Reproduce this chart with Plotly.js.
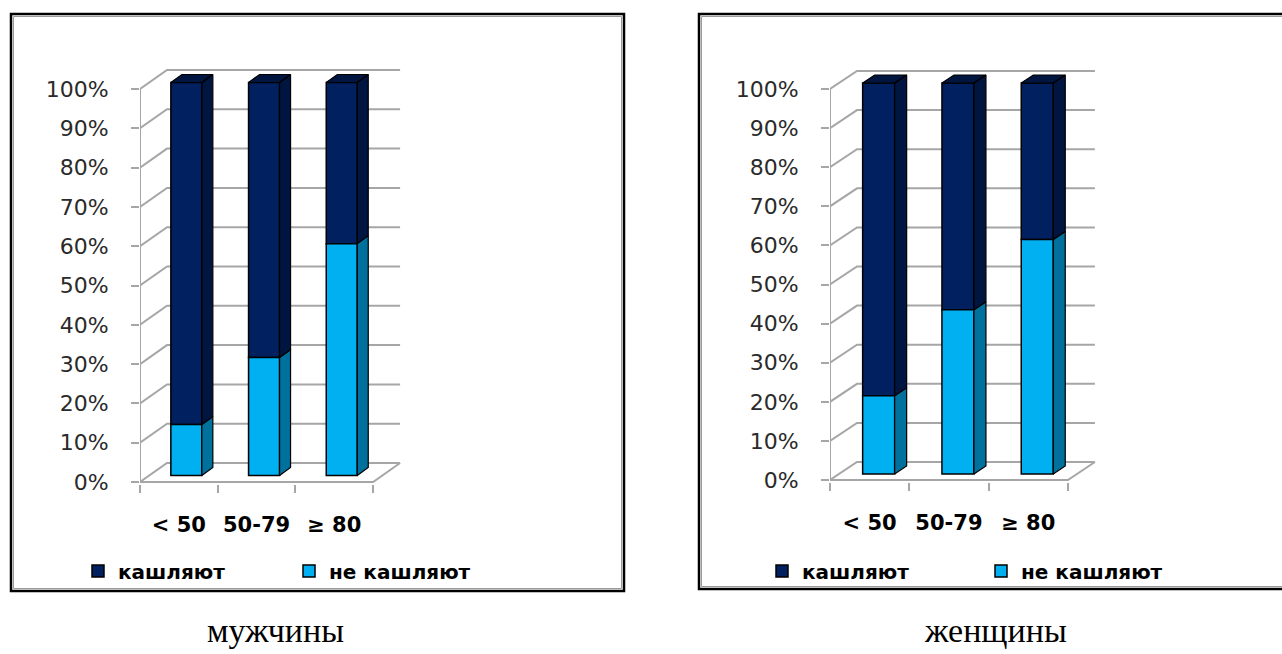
<!DOCTYPE html>
<html><head><meta charset="utf-8">
<script src="https://cdn.plot.ly/plotly-3.0.1.min.js"></script>
<style>html,body{margin:0;padding:0;background:#fff;} #chart{width:1282px;height:654px;}</style>
</head><body><div id="chart"></div>
<script>
// ---- data ----
const categories = ['< 50', '50-79', '≥ 80'];
const menNotCoughing = [13, 30, 59];
const menCoughing = [87, 70, 41];
const womenNotCoughing = [20, 42, 60];
const womenCoughing = [80, 58, 40];
const seriesNames = ['кашляют', 'не кашляют'];
const yTickValues = [0, 10, 20, 30, 40, 50, 60, 70, 80, 90, 100];
const yTickLabels = ['0%', '10%', '20%', '30%', '40%', '50%', '60%', '70%', '80%', '90%', '100%'];
const panelTitles = ['мужчины', 'женщины'];

// ---- styling / geometry ----
const W = 1282, H = 654;
const COL = {
  darkFront: '#002060', darkSide: '#00153f', darkTop: '#001a4d',
  lightFront: '#00b0f0', lightSide: '#00709c',
  grid: '#a6a6a6', tick: '#2a2a2a'
};
const geoms = [
  {axisX:140, catW:77.7, y0:482, y100:89, topPx:58, frontOffX:7.5, barW:31, frontOffY:6.5, sideDx:11, sideDy:8, backDx:27, backDy:19,
   box:[11, 14, 624, 591], legendX:78, legendEntry:166, titleX:275},
  {axisX:830, catW:79.3, y0:480, y100:89, topPx:58, frontOffX:9, barW:32, frontOffY:6, sideDx:12, sideDy:8, backDx:27, backDy:18,
   box:[699, 14, 1300, 589], legendX:762, legendEntry:174, titleX:995}
];

const traces = [];
const shapes = [];
const annotations = [];
const layout = {
  width: W, height: H, margin: {l:0, r:0, t:0, b:0},
  paper_bgcolor: '#fff', plot_bgcolor: 'rgba(0,0,0,0)',
  barmode: 'overlay', hovermode: false, showlegend: true,
  font: {family: 'DejaVu Sans', color: '#000'}
};

const panels = [
  {notV: menNotCoughing, cV: menCoughing},
  {notV: womenNotCoughing, cV: womenCoughing}
];

panels.forEach((p, k) => {
  const g = geoms[k];
  const xa = k === 0 ? 'x' : 'x2', ya = k === 0 ? 'y' : 'y2';
  const xKey = k === 0 ? 'xaxis' : 'xaxis2', yKey = k === 0 ? 'yaxis' : 'yaxis2';
  const lg = k === 0 ? 'legend' : 'legend2';
  const n = categories.length;
  const pxPct = (g.y0 - g.y100) / 100;
  const Dx = g.backDx / g.catW, Dy = g.backDy / pxPct;
  const oy = g.frontOffY / pxPct;
  const bw = g.barW / g.catW;
  const sdx = g.sideDx / g.catW, sdy = g.sideDy / pxPct;
  const offX = g.frontOffX / g.catW;
  const xMax = n + Dx + 2 / g.catW;
  const yMin = -2 / pxPct;

  layout[xKey] = {
    domain: [g.axisX / W, (g.axisX + xMax * g.catW) / W],
    range: [0, xMax], anchor: ya, showgrid: false, zeroline: false, showline: false,
    tickmode: 'array', tickvals: categories.map((c, i) => i + 0.5), ticktext: categories,
    ticks: '', ticklabelstandoff: 26,
    tickfont: {family: 'DejaVu Sans', size: 21, color: '#000', weight: 700},
    minor: {tickmode: 'array', tickvals: [0, 1, 2, 3].slice(0, n + 1), ticks: 'outside', ticklen: 8, tickwidth: 2, tickcolor: COL.grid, showgrid: false},
    fixedrange: true
  };
  layout[yKey] = {
    domain: [(H - g.y0 - 2) / H, (H - g.topPx) / H],
    range: [yMin, (g.y0 - g.topPx) / pxPct], anchor: xa,
    showgrid: false, zeroline: false, showline: false,
    tickmode: 'array', tickvals: yTickValues, ticktext: yTickLabels,
    ticks: 'outside', ticklen: 8, tickwidth: 2, tickcolor: COL.grid,
    ticklabelstandoff: 18,
    tickfont: {family: 'DejaVu Sans', size: 22, color: COL.tick},
    fixedrange: true
  };

  // walls / gridlines
  yTickValues.forEach(t => {
    shapes.push({type: 'path', xref: xa, yref: ya, layer: 'below',
      path: `M 0,${t} L ${Dx},${t + Dy} L ${n + Dx},${t + Dy}`,
      line: {color: COL.grid, width: 2}});
  });
  shapes.push({type: 'path', xref: xa, yref: ya, layer: 'below',
    path: `M 0,100 L 0,0 L ${n},0 L ${n + Dx},${Dy}`, line: {color: COL.grid, width: 2}});

  // front faces (bars)
  const xs = categories.map((c, i) => i + 0.5 + offX);
  traces.push({type: 'bar', name: seriesNames[0], legend: lg, xaxis: xa, yaxis: ya,
    x: xs, y: p.cV, base: p.notV.map(v => v + oy), width: bw,
    marker: {color: COL.darkFront, line: {color: '#000', width: 1.5}}});
  traces.push({type: 'bar', name: seriesNames[1], legend: lg, xaxis: xa, yaxis: ya,
    x: xs, y: p.notV, base: p.notV.map(() => oy), width: bw,
    marker: {color: COL.lightFront, line: {color: '#000', width: 1.5}}});

  // side faces & tops
  const lx = [], ly = [], dx = [], dy = [];
  xs.forEach((xc, i) => {
    const xl = xc - bw / 2, xr = xc + bw / 2;
    const b = oy, m = p.notV[i] + oy, t = p.notV[i] + p.cV[i] + oy;
    lx.push(xr, xr + sdx, xr + sdx, xr, xr, null);
    ly.push(b, b + sdy, m + sdy, m, b, null);
    dx.push(xr, xr + sdx, xr + sdx, xr, xr, null);
    dy.push(m, m + sdy, t + sdy, t, m, null);
    dx.push(xl, xl + sdx, xr + sdx, xr, xl, null);
    dy.push(t, t + sdy, t + sdy, t, t, null);
  });
  traces.push({type: 'scatter', mode: 'lines', x: lx, y: ly, xaxis: xa, yaxis: ya, fill: 'toself',
    fillcolor: COL.lightSide, line: {color: '#000', width: 1.2}, showlegend: false, hoverinfo: 'skip'});
  traces.push({type: 'scatter', mode: 'lines', x: dx, y: dy, xaxis: xa, yaxis: ya, fill: 'toself',
    fillcolor: COL.darkSide, line: {color: '#000', width: 1.2}, showlegend: false, hoverinfo: 'skip'});

  layout[lg] = {
    orientation: 'h', x: g.legendX / W, xanchor: 'left', y: (H - 571) / H, yanchor: 'middle',
    font: {family: 'DejaVu Sans', size: 20, color: '#000', weight: 700},
    bgcolor: 'rgba(0,0,0,0)', borderwidth: 0,
    entrywidth: g.legendEntry, entrywidthmode: 'pixels', traceorder: 'normal',
    itemclick: false, itemdoubleclick: false
  };

  // chart-area box
  const [bx0, by0, bx1, by1] = g.box;
  shapes.push({type: 'rect', xref: 'paper', yref: 'paper', layer: 'above',
    x0: bx0 / W, x1: bx1 / W, y0: (H - by0) / H, y1: (H - by1) / H,
    line: {color: '#000', width: 2.5}});
  shapes.push({type: 'rect', xref: 'paper', yref: 'paper', layer: 'above',
    x0: (bx0 + 2.5) / W, x1: (bx1 - 2.5) / W, y0: (H - by0 - 2.5) / H, y1: (H - by1 + 2.5) / H,
    line: {color: '#9a9a9a', width: 1}});

  annotations.push({xref: 'paper', yref: 'paper', x: g.titleX / W, y: (H - 630) / H,
    xanchor: 'center', yanchor: 'middle', showarrow: false, text: panelTitles[k],
    font: {family: 'Liberation Serif', size: 34, color: '#000'}});
});

layout.shapes = shapes;
layout.annotations = annotations;
Plotly.newPlot('chart', traces, layout, {staticPlot: true, displayModeBar: false});
</script>
</body></html>
